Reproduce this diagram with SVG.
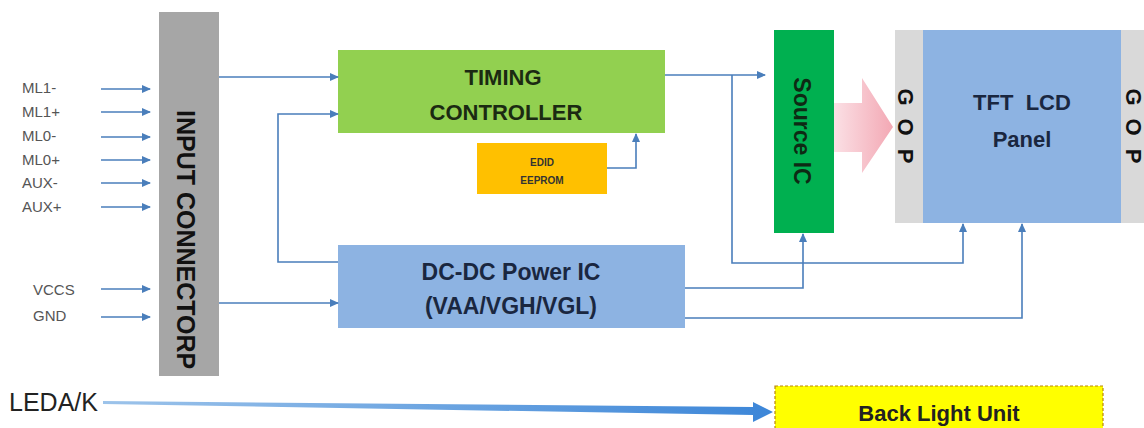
<svg xmlns="http://www.w3.org/2000/svg" width="1144" height="428" viewBox="0 0 1144 428">
<style>
.b{font-family:"Liberation Sans",Arial,sans-serif;font-weight:bold;}
.lbl{font-family:"Liberation Sans",Arial,sans-serif;font-size:15px;fill:#555;}
.ln{fill:none;stroke:#4A7EBB;stroke-width:1.6;}
</style>
<defs>
<marker id="ah" markerWidth="9" markerHeight="8" refX="8" refY="4" orient="auto" markerUnits="userSpaceOnUse">
<path d="M0,0 L9,4 L0,8 Z" fill="#4A7EBB"/>
</marker>
<linearGradient id="pink" x1="0" y1="0" x2="1" y2="0">
<stop offset="0" stop-color="#FBE0E5"/>
<stop offset="1" stop-color="#F3A8B4"/>
</linearGradient>
<linearGradient id="blue" x1="0" y1="0" x2="1" y2="0">
<stop offset="0" stop-color="#9CC3EA"/>
<stop offset="1" stop-color="#3C86D8"/>
</linearGradient>
</defs>
<rect width="1144" height="428" fill="#fff"/>

<g id="input-labels">
<text class="lbl" x="22" y="93">ML1-</text>
<text class="lbl" x="22" y="117">ML1+</text>
<text class="lbl" x="22" y="141">ML0-</text>
<text class="lbl" x="22" y="165">ML0+</text>
<text class="lbl" x="22" y="188">AUX-</text>
<text class="lbl" x="22" y="212">AUX+</text>
<text class="lbl" x="33" y="295">VCCS</text>
<text class="lbl" x="33" y="321">GND</text>
</g>

<g id="input-connector">
<rect x="159" y="12" width="60" height="364" fill="#A6A6A6"/>
<text class="b" font-size="25" fill="#111" transform="translate(177,110) rotate(90)">INPUT CONNECTORP</text>
</g>

<g id="timing-controller">
<rect x="338" y="50" width="327" height="83" fill="#92D050"/>
<text class="b" font-size="22" fill="#1B2A12" text-anchor="middle" x="503" y="85">TIMING</text>
<text class="b" font-size="22" fill="#1B2A12" text-anchor="middle" x="506" y="120">CONTROLLER</text>
</g>

<g id="edid-eeprom">
<rect x="477" y="143" width="130" height="51" fill="#FFC000"/>
<text class="b" font-size="10" fill="#333" text-anchor="middle" x="542" y="166">EDID</text>
<text class="b" font-size="10" fill="#333" text-anchor="middle" x="542" y="184">EEPROM</text>
</g>

<g id="source-ic">
<rect x="774" y="30" width="60" height="203" fill="#00B050"/>
<text class="b" font-size="23" fill="#0E2A14" text-anchor="middle" transform="translate(794,131) rotate(90)">Source IC</text>
</g>

<g id="pink-arrow">
<polygon points="834,103 862,103 862,78 893,127 862,173 862,152 834,152" fill="url(#pink)"/>
</g>

<g id="tft-panel">
<rect x="895" y="30" width="28" height="193" fill="#D9D9D9"/>
<rect x="923" y="30" width="198" height="193" fill="#8DB3E2"/>
<rect x="1121" y="30" width="23" height="193" fill="#D9D9D9"/>
<text class="b" font-size="22" fill="#111" text-anchor="middle" transform="translate(898,97) rotate(90)">G</text>
<text class="b" font-size="22" fill="#111" text-anchor="middle" transform="translate(898,127) rotate(90)">O</text>
<text class="b" font-size="22" fill="#111" text-anchor="middle" transform="translate(898,156) rotate(90)">P</text>
<text class="b" font-size="22" fill="#111" text-anchor="middle" transform="translate(1126,97) rotate(90)">G</text>
<text class="b" font-size="22" fill="#111" text-anchor="middle" transform="translate(1126,127) rotate(90)">O</text>
<text class="b" font-size="22" fill="#111" text-anchor="middle" transform="translate(1126,156) rotate(90)">P</text>
<text class="b" font-size="22" fill="#1A2740" text-anchor="middle" x="1022" y="110" xml:space="preserve">TFT  LCD</text>
<text class="b" font-size="22" fill="#1A2740" text-anchor="middle" x="1022" y="147">Panel</text>
</g>

<g id="dcdc-power-ic">
<rect x="338" y="245" width="347" height="83" fill="#8DB3E2"/>
<text class="b" font-size="23" fill="#1A2740" text-anchor="middle" x="511" y="280">DC-DC Power IC</text>
<text class="b" font-size="23" fill="#1A2740" text-anchor="middle" x="511" y="314">(VAA/VGH/VGL)</text>
</g>

<g id="back-light-unit">
<rect x="775" y="386" width="328" height="46" fill="#FFFF00" stroke="#B8860B" stroke-width="1.2" stroke-dasharray="3,2"/>
<text class="b" font-size="22" fill="#222" text-anchor="middle" x="939" y="421">Back Light Unit</text>
</g>

<g id="leda-label">
<text font-family="'Liberation Sans',Arial,sans-serif" font-size="25" fill="#222" x="9" y="411">LEDA/K</text>
</g>

<g id="connectors">
<line class="ln" x1="101" y1="89" x2="150" y2="89" marker-end="url(#ah)"/>
<line class="ln" x1="101" y1="112" x2="150" y2="112" marker-end="url(#ah)"/>
<line class="ln" x1="101" y1="137" x2="150" y2="137" marker-end="url(#ah)"/>
<line class="ln" x1="101" y1="160" x2="150" y2="160" marker-end="url(#ah)"/>
<line class="ln" x1="101" y1="183" x2="150" y2="183" marker-end="url(#ah)"/>
<line class="ln" x1="101" y1="207" x2="150" y2="207" marker-end="url(#ah)"/>
<line class="ln" x1="101" y1="289" x2="150" y2="289" marker-end="url(#ah)"/>
<line class="ln" x1="101" y1="317" x2="150" y2="317" marker-end="url(#ah)"/>

<line class="ln" x1="219" y1="77" x2="338" y2="77" marker-end="url(#ah)"/>
<polyline class="ln" points="338,262 278,262 278,114 338,114" marker-end="url(#ah)"/>
<line class="ln" x1="219" y1="303" x2="338" y2="303" marker-end="url(#ah)"/>
<polyline class="ln" points="607,168 636,168 636,134" marker-end="url(#ah)"/>
<line class="ln" x1="665" y1="75" x2="765" y2="75" marker-end="url(#ah)"/>
<polyline class="ln" points="732,75 732,263 963,263 963,224" marker-end="url(#ah)"/>
<polyline class="ln" points="685,288 803,288 803,234" marker-end="url(#ah)"/>
<polyline class="ln" points="685,318 1022,318 1022,224" marker-end="url(#ah)"/>

<polygon points="103,401 753,407 753,402 773,412 753,422 753,415 103,404" fill="url(#blue)"/>
</g>
</svg>
